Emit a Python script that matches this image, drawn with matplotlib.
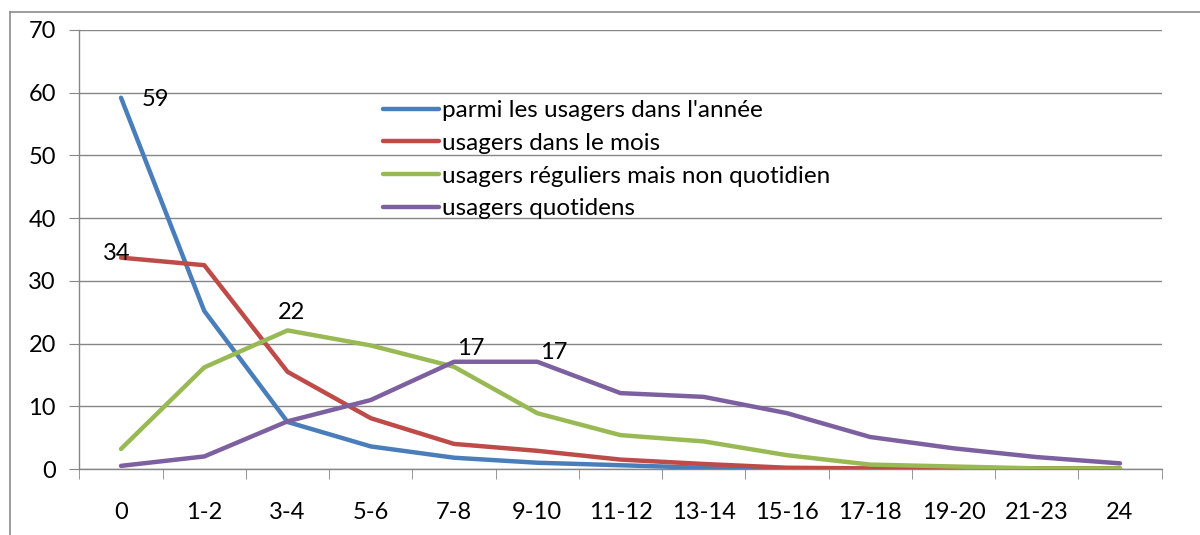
import matplotlib
matplotlib.use("Agg")
import matplotlib.pyplot as plt
from matplotlib.lines import Line2D
import numpy as np

plt.rcParams['font.family'] = ['Lato', 'DejaVu Sans']

categories = ["0", "1-2", "3-4", "5-6", "7-8", "9-10", "11-12", "13-14",
              "15-16", "17-18", "19-20", "21-23", "24"]
annee = [59.2, 25.2, 7.5, 3.6, 1.8, 1.0, 0.6, 0.2, 0.1, 0.0, 0.0, 0.0, 0.0]
mois = [33.7, 32.5, 15.5, 8.1, 4.0, 2.9, 1.5, 0.8, 0.2, 0.1, 0.1, 0.1, 0.1]
reguliers = [3.2, 16.2, 22.1, 19.7, 16.3, 8.9, 5.4, 4.4, 2.2, 0.7, 0.4, 0.1, 0.1]
quotidiens = [0.5, 2.0, 7.6, 11.0, 17.1, 17.1, 12.1, 11.5, 8.9, 5.1, 3.3, 1.9, 0.9]
series_names = ["parmi les usagers dans l'année", "usagers dans le mois",
                "usagers réguliers mais non quotidien", "usagers quotidens"]
colors = ["#4a7ebb", "#be4b48", "#98b954", "#7d60a0"]

fig = plt.figure(figsize=(12, 5.35), dpi=100)
ax = fig.add_axes([79.4 / 1200, 66 / 535, (1161.6 - 79.4) / 1200, 439 / 535])

x = np.arange(len(categories))
for vals, name, c in zip([annee, mois, reguliers, quotidiens], series_names, colors):
    ax.plot(x, vals, color=c, lw=3.2, label=name, solid_joinstyle='round',
            solid_capstyle='round', zorder=3)

ax.set_xlim(-0.5, len(categories) - 0.5)
ax.set_ylim(0, 70)
ax.set_yticks(range(0, 71, 10))
ax.set_xticks(x)
ax.set_xticklabels(categories)
ax.set_xticks(np.arange(-0.5, len(categories), 1.0), minor=True)
ax.tick_params(axis='x', which='major', length=0, pad=24, labelsize=17)
ax.tick_params(axis='x', which='minor', length=7, color='#868686', direction='out')
ax.tick_params(axis='y', length=7, color='#868686', pad=10, labelsize=17)
ax.grid(axis='y', color='#868686', lw=1.0, zorder=0)
for s in ['top', 'right']:
    ax.spines[s].set_visible(False)
for s in ['left', 'bottom']:
    ax.spines[s].set_color('#868686')
    ax.spines[s].set_linewidth(1.0)

# data labels
lab = dict(fontsize=17, textcoords='offset points', va='center', ha='center')
ax.annotate("59", (0, annee[0]), xytext=(25, -1), **lab)
ax.annotate("34", (0, mois[0]), xytext=(-3, 3), **lab)
ax.annotate("22", (2, reguliers[2]), xytext=(3, 13), **lab)
ax.annotate("17", (4, quotidiens[4]), xytext=(12, 9.5), **lab)
ax.annotate("17", (5, quotidiens[5]), xytext=(11.5, 7), **lab)

leg = ax.legend(loc='upper left', bbox_to_anchor=(0.281, 0.84), frameon=False,
                fontsize=17.5, handlelength=2.3, handletextpad=0.1,
                labelspacing=0.48, borderaxespad=0, borderpad=0)

# outer chart frame
fig.add_artist(Line2D([10 / 1200, 1.0], [1 - 12 / 535, 1 - 12 / 535],
                      transform=fig.transFigure, color='#8c8c8c', lw=1.2))
fig.add_artist(Line2D([10 / 1200, 10 / 1200], [0, 1 - 12 / 535],
                      transform=fig.transFigure, color='#8c8c8c', lw=1.2))

fig.savefig("out.png", dpi=100)
